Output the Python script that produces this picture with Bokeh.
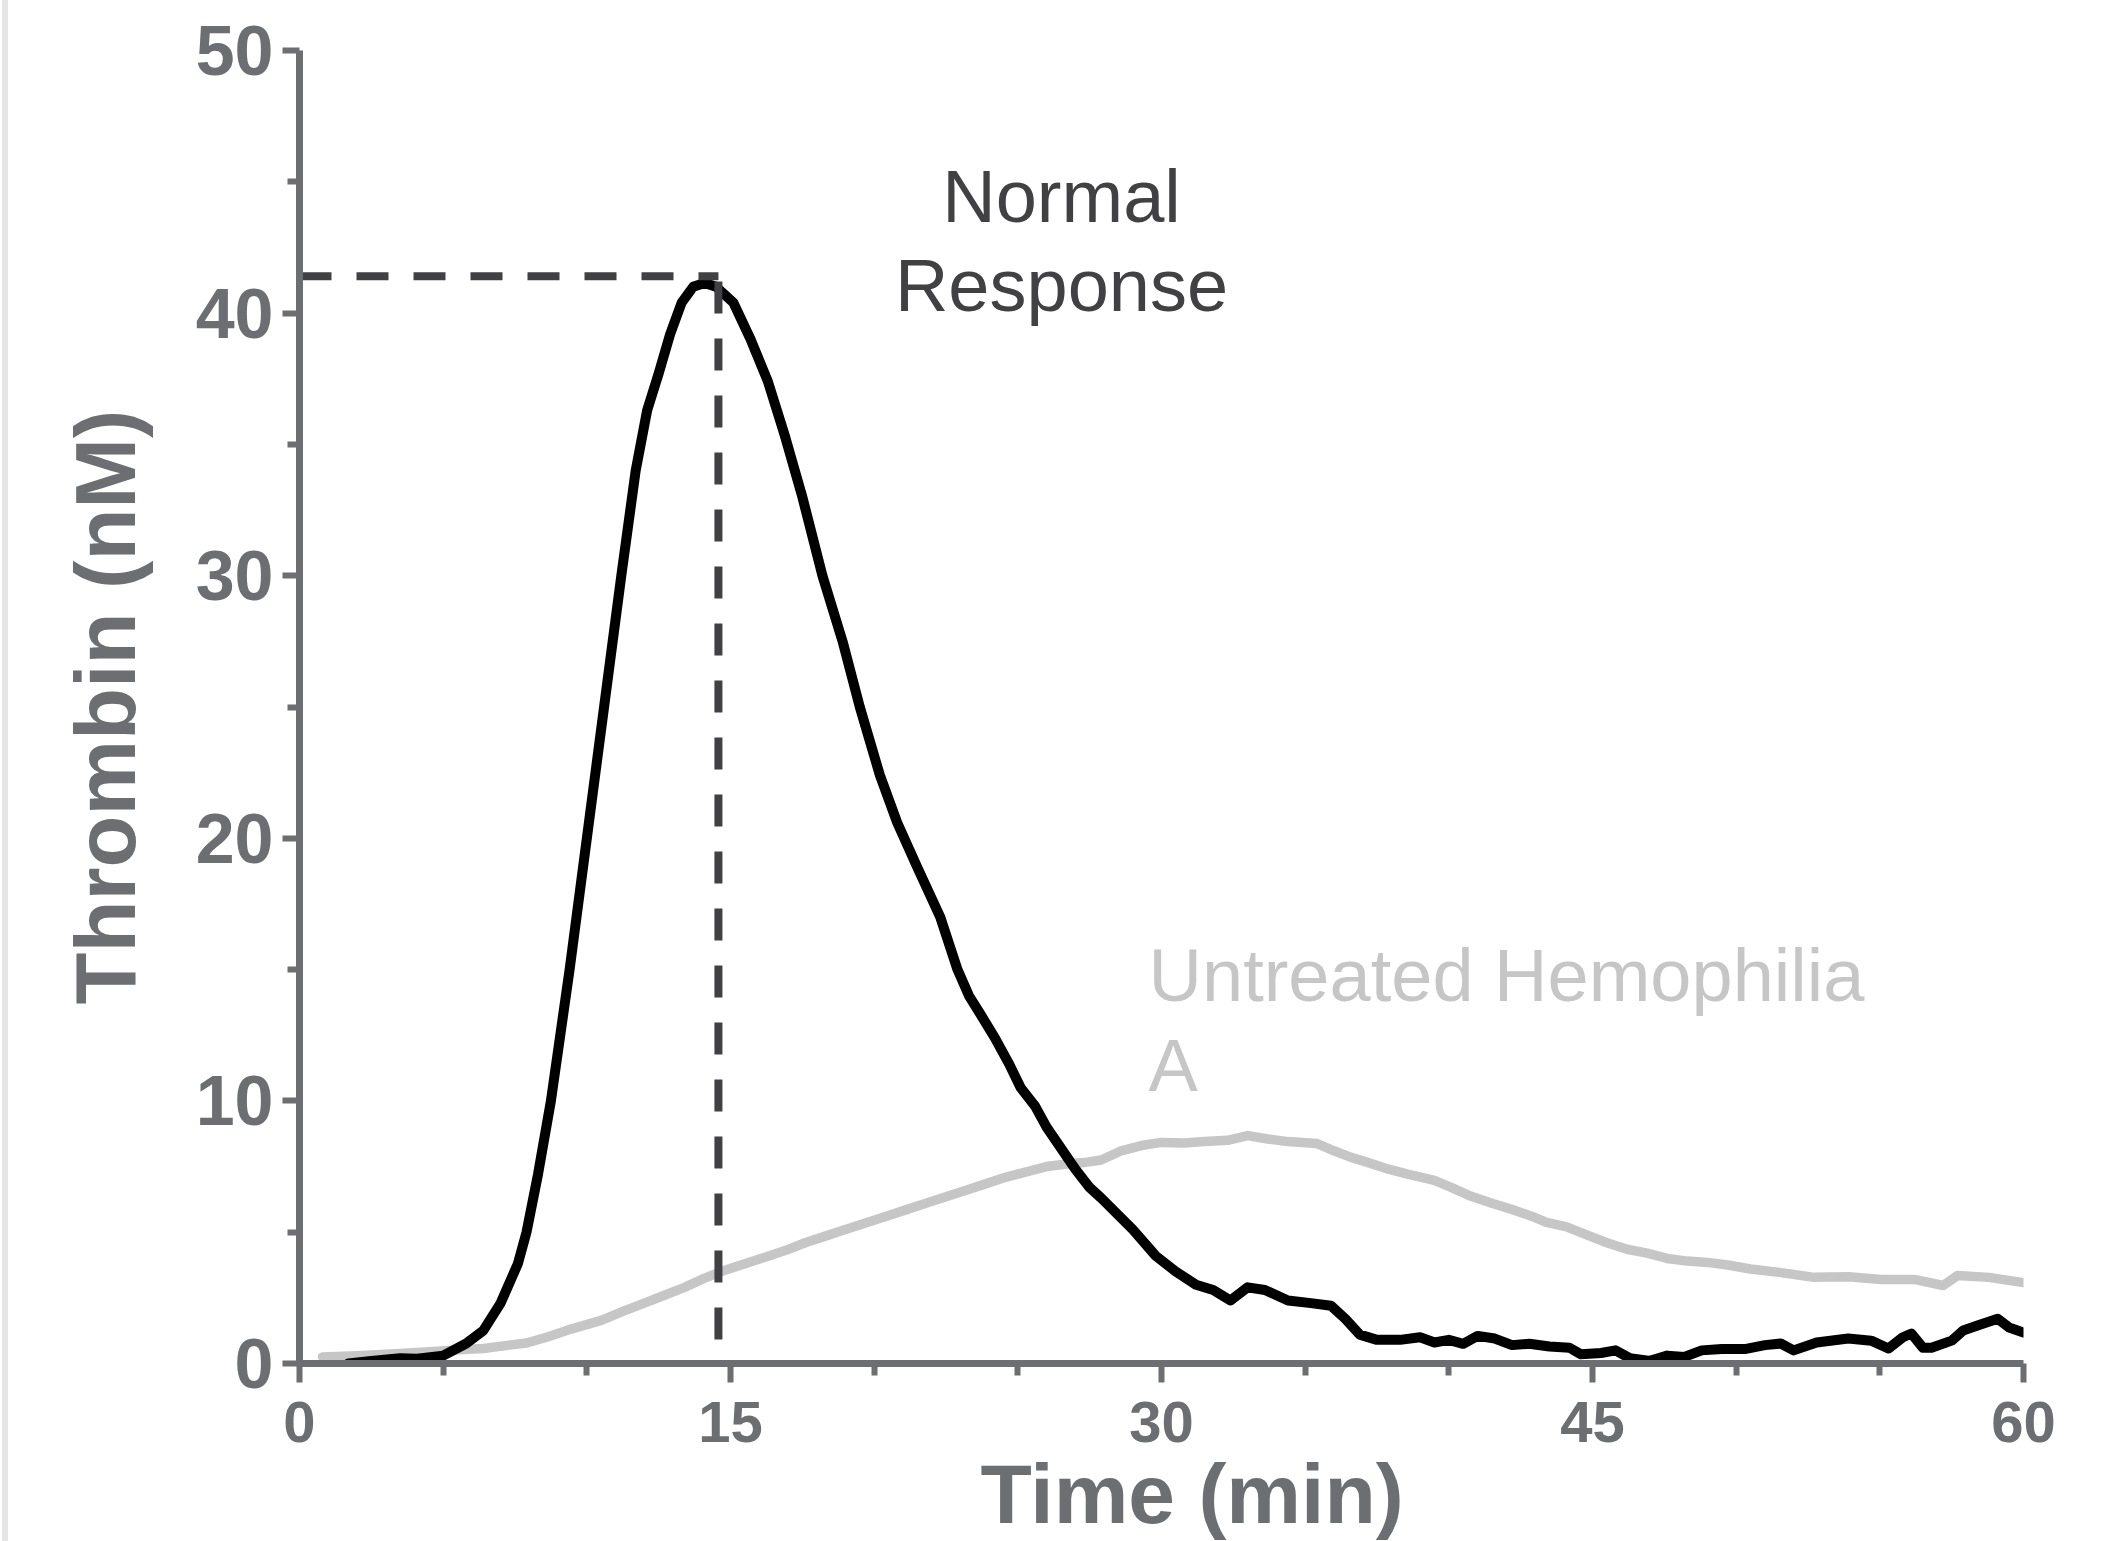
from bokeh.plotting import figure
from bokeh.layouts import row
from bokeh.models import Label, FixedTicker, ColumnDataSource, Spacer, Title
from bokeh.embed import file_html
from bokeh.resources import INLINE

# ---------------- data ----------------
normal_time = [1.7, 2.5, 3.5, 4.1, 5.0, 5.8, 6.4, 7.0, 7.6, 7.9, 8.3, 8.75, 9.4, 10.0, 10.6,
               11.2, 11.7, 12.1, 12.5, 12.9, 13.3, 13.7, 14.1, 14.5, 15.1, 15.7, 16.3, 16.9,
               17.5, 18.2, 18.9, 19.5, 20.2, 20.8, 21.5, 22.3, 22.9, 23.3, 23.7, 24.2, 24.7,
               25.1, 25.6, 26.0, 26.5, 27.0, 27.5, 27.9, 29.0, 29.8, 30.5, 31.2, 31.8, 32.4,
               33.0, 33.6, 34.4, 35.2, 35.9,
               36.4, 36.9, 37.5, 38.3, 39.0, 39.5, 40.0, 40.5, 41.0, 41.6, 42.2, 42.8, 43.5,
               44.2, 44.6, 45.3, 45.8, 46.3, 47.0, 47.6, 48.2, 48.8, 49.5, 50.3, 51.0, 51.55,
               52.0, 52.8, 53.9, 54.7, 55.3, 55.8, 56.1, 56.5, 56.8, 57.5, 57.9, 58.4, 59.1,
               59.5, 60.0]
normal_thrombin = [0.0, 0.1, 0.2, 0.18, 0.3, 0.76, 1.26, 2.3, 3.8, 5.0, 7.2, 10.0, 15.0, 20.0, 25.0,
                   30.0, 34.0, 36.3, 37.7, 39.2, 40.4, 41.0, 41.15, 41.0, 40.4, 39.0, 37.4, 35.3,
                   33.0, 30.0, 27.5, 25.0, 22.4, 20.6, 18.9, 17.0, 15.0, 14.0, 13.3, 12.4, 11.4,
                   10.5, 9.8, 9.0, 8.2, 7.4, 6.7, 6.3, 5.1, 4.1, 3.5, 3.0, 2.8, 2.4,
                   2.9, 2.8, 2.4, 2.3, 2.2,
                   1.7, 1.1, 0.9, 0.9, 1.0, 0.8, 0.9, 0.75, 1.05, 0.95, 0.7, 0.75, 0.65,
                   0.6, 0.35, 0.4, 0.5, 0.2, 0.1, 0.3, 0.25, 0.5, 0.55, 0.55, 0.7, 0.76,
                   0.5, 0.8, 0.95, 0.87, 0.57, 1.0, 1.14, 0.6, 0.6, 0.87, 1.26, 1.45, 1.7,
                   1.37, 1.18]

hemo_time = [0.8, 2.0, 3.0, 4.1, 5.2, 6.4, 7.3, 7.9, 8.6, 9.3, 10.5, 11.3, 12.0, 12.7, 13.4,
             14.1, 14.8, 15.5, 16.2, 16.9, 17.6, 18.3, 19.0, 19.7, 20.4, 21.1, 21.8, 22.5,
             23.2, 23.9, 24.6, 25.3, 26.0, 26.7, 27.3, 27.9, 28.6, 29.3, 30.0, 30.8, 31.5,
             32.3, 33.0, 33.7, 34.4, 35.4, 36.0, 36.6, 37.2, 37.9, 38.6, 39.5, 40.1, 40.7,
             41.5, 42.3, 42.9, 43.4, 44.1, 44.8, 45.5, 46.2, 46.9, 47.6, 48.3, 49.0, 49.7,
             50.5, 51.5, 52.7, 53.9, 55.05, 56.2, 57.2, 57.7, 58.8, 60.0]
hemo_thrombin = [0.25, 0.3, 0.35, 0.42, 0.5, 0.57, 0.7, 0.78, 1.0, 1.26, 1.64, 2.0, 2.3, 2.6, 2.9,
                 3.25, 3.55, 3.8, 4.05, 4.3, 4.6, 4.85, 5.1, 5.35, 5.6, 5.85, 6.1, 6.35,
                 6.6, 6.85, 7.1, 7.3, 7.5, 7.6, 7.65, 7.75, 8.1, 8.3, 8.42, 8.4, 8.45,
                 8.5, 8.68, 8.55, 8.45, 8.38, 8.1, 7.85, 7.65, 7.4, 7.2, 6.97, 6.7, 6.4,
                 6.1, 5.83, 5.6, 5.37, 5.2, 4.9, 4.6, 4.35, 4.2, 4.0, 3.9, 3.85, 3.75,
                 3.6, 3.47, 3.28, 3.3, 3.2, 3.2, 2.97, 3.35, 3.28, 3.08]

peak_time = 14.58
peak_thrombin = 41.4
dash_bottom = 0.5

x_major = [0, 15, 30, 45, 60]
x_minor = [5, 10, 20, 25, 35, 40, 50, 55]
y_major = [0, 10, 20, 30, 40, 50]
y_minor = [5, 15, 25, 35, 45]

x_title = "Time (min)"
y_title = "Thrombin (nM)"
normal_lines = ["Normal", "Response"]
hemo_lines = ["Untreated Hemophilia", "A"]

# ---------------- styles ----------------
AXIS_GRAY = "#6d6e71"
DARK = "#414042"
LIGHT = "#c6c6c6"
SANS = "Liberation Sans"

fig = figure(width=2092, height=1541, x_range=(0, 60), y_range=(0, 50),
             output_backend="svg", toolbar_location=None,
             min_border_left=291, min_border_right=77, min_border_top=50, min_border_bottom=178)
fig.background_fill_color = "white"
fig.border_fill_color = "white"
fig.outline_line_color = None
fig.grid.visible = False

fig.xaxis.ticker = FixedTicker(ticks=x_major, minor_ticks=x_minor)
fig.yaxis.ticker = FixedTicker(ticks=y_major, minor_ticks=y_minor)

for ax in (fig.xaxis, fig.yaxis):
    ax.axis_line_color = AXIS_GRAY
    ax.axis_line_width = 7
    ax.major_tick_line_color = AXIS_GRAY
    ax.major_tick_line_width = 6
    ax.minor_tick_line_color = AXIS_GRAY
    ax.minor_tick_line_width = 6
    ax.major_tick_in = 0
    ax.minor_tick_in = 0
    ax.minor_tick_out = 12
    ax.major_label_text_color = AXIS_GRAY
    ax.major_label_text_font = SANS
    ax.major_label_text_font_style = "bold"
    ax.axis_label_text_color = AXIS_GRAY
    ax.axis_label_text_font = SANS
    ax.axis_label_text_font_style = "bold"

fig.xaxis.major_tick_out = 19
fig.yaxis.major_tick_out = 17
fig.xaxis.major_label_standoff = 19
fig.yaxis.major_label_standoff = 9
fig.xaxis.major_label_text_font_size = "58px"
fig.yaxis.major_label_text_font_size = "70px"

fig.yaxis.axis_label = y_title
fig.yaxis.axis_label_text_font_size = "85px"
fig.yaxis.axis_label_standoff = 40

fig.add_layout(Title(text=x_title, align="left", offset=681, standoff=0,
                     text_font=SANS, text_font_style="bold", text_font_size="84px",
                     text_color=AXIS_GRAY), "below")

hemo_src = ColumnDataSource(dict(t=hemo_time, v=hemo_thrombin))
norm_src = ColumnDataSource(dict(t=normal_time, v=normal_thrombin))

fig.line("t", "v", source=hemo_src, line_color=LIGHT, line_width=9.5, line_join="round", line_cap="round")
fig.line("t", "v", source=norm_src, line_color="black", line_width=10, line_join="round", line_cap="round")

fig.line([0, peak_time], [peak_thrombin, peak_thrombin], line_color=DARK, line_width=8, line_dash="32 25")
fig.line([peak_time, peak_time], [peak_thrombin - 0.2, dash_bottom], line_color=DARK, line_width=8,
         line_dash="32 25")

for txt, yy in zip(normal_lines, [44.44, 41.05]):
    fig.add_layout(Label(x=26.52, y=yy, text=txt, text_align="center", text_baseline="alphabetic",
                         text_font=SANS, text_font_size="74px", text_color=DARK))
for txt, yy in zip(hemo_lines, [14.78, 11.35]):
    fig.add_layout(Label(x=29.55, y=yy, text=txt, text_align="left", text_baseline="alphabetic",
                         text_font=SANS, text_font_size="74px", text_color=LIGHT))

edge_gap = Spacer(width=2, height=1541)
edge_bar = Spacer(width=6, height=1541, styles={"background-color": "#e5e5e5"})
p = row(edge_gap, edge_bar, fig)

open("out.html", "w").write(file_html(p, INLINE))
